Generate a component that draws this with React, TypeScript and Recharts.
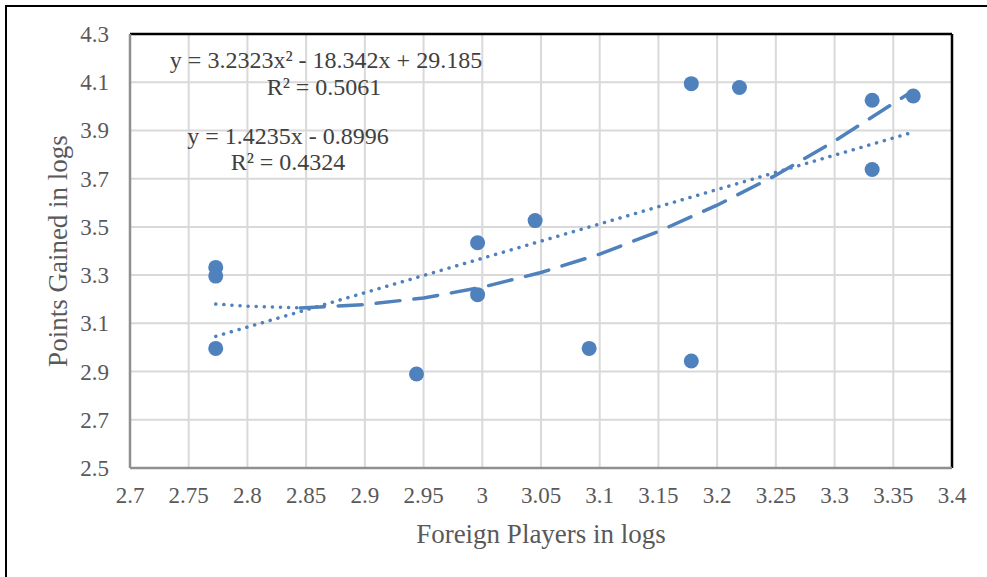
import React from 'react';
import { ScatterChart, Scatter, XAxis, YAxis, CartesianGrid, ReferenceLine } from 'recharts';

// observations (logs)
const foreignPlayers = [2.773, 2.773, 2.773, 2.944, 2.996, 2.996, 3.045, 3.091, 3.178, 3.178, 3.219, 3.332, 3.332, 3.367];
const pointsGained = [3.332, 3.296, 2.996, 2.89, 3.434, 3.219, 3.526, 2.996, 4.094, 2.944, 4.078, 4.025, 3.738, 4.043];

// trendlines
const linearFitX = [2.773, 3.367];
const linearFitY = [3.046, 3.893];
const polyDotX = [2.773, 2.8, 2.845];
const polyDotY = [3.18, 3.171, 3.164];
const polyDashX = [2.845, 2.9, 2.95, 3.0, 3.05, 3.1, 3.15, 3.2, 3.25, 3.3, 3.367];
const polyDashY = [3.164, 3.178, 3.205, 3.25, 3.311, 3.387, 3.481, 3.59, 3.714, 3.856, 4.065];

const xTicks = [2.7, 2.75, 2.8, 2.85, 2.9, 2.95, 3, 3.05, 3.1, 3.15, 3.2, 3.25, 3.3, 3.35, 3.4];
const yTicks = [2.5, 2.7, 2.9, 3.1, 3.3, 3.5, 3.7, 3.9, 4.1, 4.3];

const polyEq = 'y = 3.2323x² - 18.342x + 29.185';
const polyR2 = 'R² = 0.5061';
const linEq = 'y = 1.4235x - 0.8996';
const linR2 = 'R² = 0.4324';

const zip = (xs: number[], ys: number[]) => xs.map((x, i) => ({ x, y: ys[i] }));

const BLUE = '#4f81bd';
const FONT = '"Liberation Serif", "Times New Roman", serif';

const XTick = ({ x, y, payload }: any) => (
  <text x={x} y={y} dy={35} textAnchor="middle" fill="#595959" fontSize={23} fontFamily={FONT}>
    {payload.value}
  </text>
);

const YTick = ({ x, y, payload }: any) => (
  <text x={x - 21} y={y} dy={8} textAnchor="end" fill="#595959" fontSize={23} fontFamily={FONT}>
    {payload.value}
  </text>
);

const noShape = () => <g />;
const dot = (p: any) => <circle cx={p.cx} cy={p.cy} r={7.5} fill={BLUE} />;

const eqStyle = (cx: number, cy: number): React.CSSProperties => ({
  position: 'absolute',
  left: cx,
  top: cy,
  transform: 'translate(-50%, -50%)',
  whiteSpace: 'nowrap',
  fontFamily: FONT,
  fontSize: 24,
  color: '#404040',
  lineHeight: 1,
});

export default function App() {
  return (
    <div style={{ position: 'absolute', left: 0, top: 0, width: 987, height: 577, background: '#fff', overflow: 'hidden' }}>
      <div style={{ position: 'absolute', left: 5, top: 5, width: 1000, height: 600, borderTop: '2px solid #000', borderLeft: '2px solid #000' }} />
      <ScatterChart width={987} height={577} margin={{ top: 34, right: 35, bottom: 29, left: 0 }}>
        <CartesianGrid stroke="#d9d9d9" strokeWidth={2} />
        <XAxis
          type="number"
          dataKey="x"
          domain={[2.7, 3.4]}
          ticks={xTicks}
          height={80}
          tickSize={0}
          tickMargin={0}
          tick={<XTick />}
          axisLine={{ stroke: '#8f8f8f', strokeWidth: 2.5 }}
          label={{ value: 'Foreign Players in logs', position: 'insideBottom', offset: 5, fill: '#595959', fontSize: 27, fontFamily: FONT }}
        />
        <YAxis
          type="number"
          dataKey="y"
          domain={[2.5, 4.3]}
          ticks={yTicks}
          width={130}
          tickSize={0}
          tickMargin={0}
          tick={<YTick />}
          axisLine={{ stroke: '#8f8f8f', strokeWidth: 2.5 }}
          label={{ value: 'Points Gained in logs', angle: -90, position: 'insideLeft', offset: 57, fill: '#595959', fontSize: 27, fontFamily: FONT, style: { textAnchor: 'middle' } }}
        />
        <ReferenceLine y={4.3} stroke="#000" strokeWidth={2.5} />
        <ReferenceLine x={3.4} stroke="#000" strokeWidth={2.5} />
        <Scatter data={zip(foreignPlayers, pointsGained)} shape={dot} isAnimationActive={false} />
        <Scatter
          data={zip(linearFitX, linearFitY)}
          shape={noShape}
          line={{ stroke: BLUE, strokeWidth: 3.5, strokeDasharray: '0.1 8', strokeLinecap: 'round' }}
          isAnimationActive={false}
        />
        <Scatter
          data={zip(polyDotX, polyDotY)}
          shape={noShape}
          line={{ stroke: BLUE, strokeWidth: 3.5, strokeDasharray: '0.1 8', strokeLinecap: 'round' }}
          isAnimationActive={false}
        />
        <Scatter
          data={zip(polyDashX, polyDashY)}
          shape={noShape}
          line={{ stroke: BLUE, strokeWidth: 3.5, strokeDasharray: '24 14', strokeLinecap: 'round' }}
          isAnimationActive={false}
        />
      </ScatterChart>
      <div style={eqStyle(326, 60)}>{polyEq}</div>
      <div style={eqStyle(324, 87)}>{polyR2}</div>
      <div style={eqStyle(288, 136)}>{linEq}</div>
      <div style={eqStyle(288, 162)}>{linR2}</div>
    </div>
  );
}
